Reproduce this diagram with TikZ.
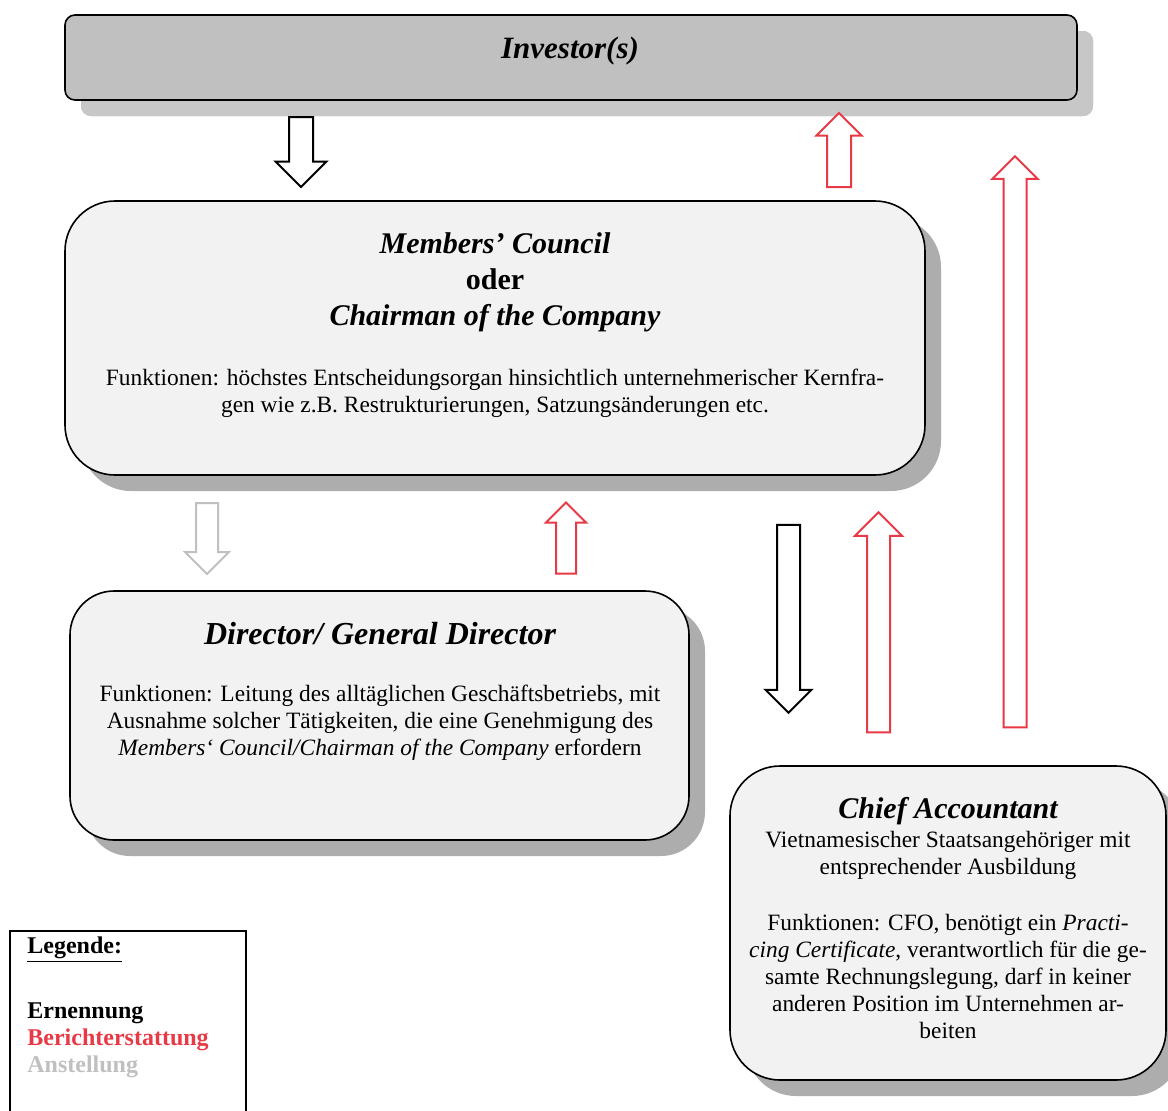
\documentclass[tikz,border=0pt]{standalone}
\usepackage{fontspec}
\setmainfont{Liberation Serif}
\usetikzlibrary{shapes.arrows,shadows}
\definecolor{repred}{RGB}{232,57,70}
\definecolor{apptgray}{RGB}{192,192,192}
\definecolor{boxfill}{RGB}{242,242,242}
\newcommand{\bodyfont}{\fontsize{11.7}{13.5}\selectfont}
\newcommand{\titlefont}{\fontsize{15}{18}\selectfont\bfseries\itshape}
\tikzset{
  orgbox/.style={draw, line width=0.8pt, fill=boxfill, rounded corners=25pt, inner sep=0pt,
    drop shadow={shadow xshift=8pt, shadow yshift=-8pt, fill=black!32, opacity=1}},
  bodytext/.style={align=center, inner sep=0pt, font=\bodyfont},
  titletext/.style={align=center, inner sep=0pt, font=\titlefont},
  blockarrow/.style={single arrow, draw, line width=1pt, fill=white, single arrow tip angle=90},
  downarrow/.style={blockarrow, shape border rotate=270},
  uparrow/.style={blockarrow, shape border rotate=90, draw=repred},
}

\begin{document}
\begin{tikzpicture}[x=0.5pt, y=-0.5pt]
  \useasboundingbox (0,0) rectangle (1168,1110);
  % boxes
  \node[orgbox, fill=apptgray, rounded corners=5pt, minimum width=506pt, minimum height=42.5pt,
    drop shadow={shadow xshift=8pt, shadow yshift=-8pt, fill=black!22, opacity=1}] (inv) at (571,57.5) {};
  \node[orgbox, minimum width=430pt, minimum height=137pt] (mc) at (495,338) {};
  \node[orgbox, rounded corners=22pt, minimum width=309.5pt, minimum height=124.5pt] (dir) at (379.5,715.5) {};
  \node[orgbox, minimum width=218pt, minimum height=157pt] (ca) at (948,923) {};
  \node[draw, line width=1pt, minimum width=118pt, minimum height=100pt, inner sep=0pt] (leg) at (128,1031) {};
  % texts
  \node[titletext, font=\fontsize{15.5}{18}\selectfont\bfseries\itshape] (invtitle) at (570,51) {Investor(s)};
  \node[titletext] (mctitle) at (495,282) {Members’ Council\\\textup{oder}\\Chairman of the Company};
  \node[bodytext] (mcbody) at (495,393) {Funktionen: höchstes Entscheidungsorgan hinsichtlich unternehmerischer Kernfra-\\gen wie z.B. Restrukturierungen, Satzungsänderungen etc.};
  \node[titletext, font=\fontsize{16}{18}\selectfont\bfseries\itshape] (dirtitle) at (380,634) {Director/ General Director};
  \node[bodytext] (dirbody) at (380,723) {Funktionen: Leitung des alltäglichen Geschäftsbetriebs, mit\\Ausnahme solcher Tätigkeiten, die eine Genehmigung des\\\textit{Members‘ Council/Chairman of the Company} erfordern};
  \node[titletext] (catitle) at (948,811) {Chief Accountant};
  \node[bodytext] (canat) at (948,855) {Vietnamesischer Staatsangehöriger mit\\entsprechender Ausbildung};
  \node[bodytext] (cabody) at (948,976) {Funktionen: CFO, benötigt ein \textit{Practi-}\\\textit{cing Certificate}, verantwortlich für die ge-\\samte Rechnungslegung, darf in keiner\\anderen Position im Unternehmen ar-\\beiten};
  \node[bodytext, font=\fontsize{12}{13.5}\selectfont\bfseries, anchor=west] (legtitle) at (27,950) {\underline{Legende:}};
  \node[bodytext, font=\fontsize{12}{13.5}\selectfont\bfseries, align=left, anchor=west] (legitems) at (27,1040)
    {Ernennung\\\textcolor{repred}{Berichterstattung}\\\textcolor{apptgray}{Anstellung}};
  % arrows
  \node[downarrow, minimum height=35pt, inner sep=5.5pt, single arrow head extend=6.75pt] (a1) at (301,146) {};
  \node[uparrow, minimum height=37pt, inner sep=5.5pt, single arrow head extend=5.25pt] (a2) at (839,156) {};
  \node[uparrow, minimum height=285.5pt, inner sep=5.25pt, single arrow head extend=5.5pt] (a3) at (1015,447.5) {};
  \node[downarrow, draw=apptgray, minimum height=35.5pt, inner sep=5pt, single arrow head extend=5.5pt] (a4) at (207,533) {};
  \node[uparrow, minimum height=35.5pt, inner sep=4.5pt, single arrow head extend=5pt] (a5) at (566,543) {};
  \node[downarrow, minimum height=94pt, inner sep=5.25pt, single arrow head extend=5.75pt] (a6) at (788.5,613) {};
  \node[uparrow, minimum height=110pt, inner sep=5.25pt, single arrow head extend=6pt] (a7) at (878.5,628) {};
\end{tikzpicture}
\end{document}
